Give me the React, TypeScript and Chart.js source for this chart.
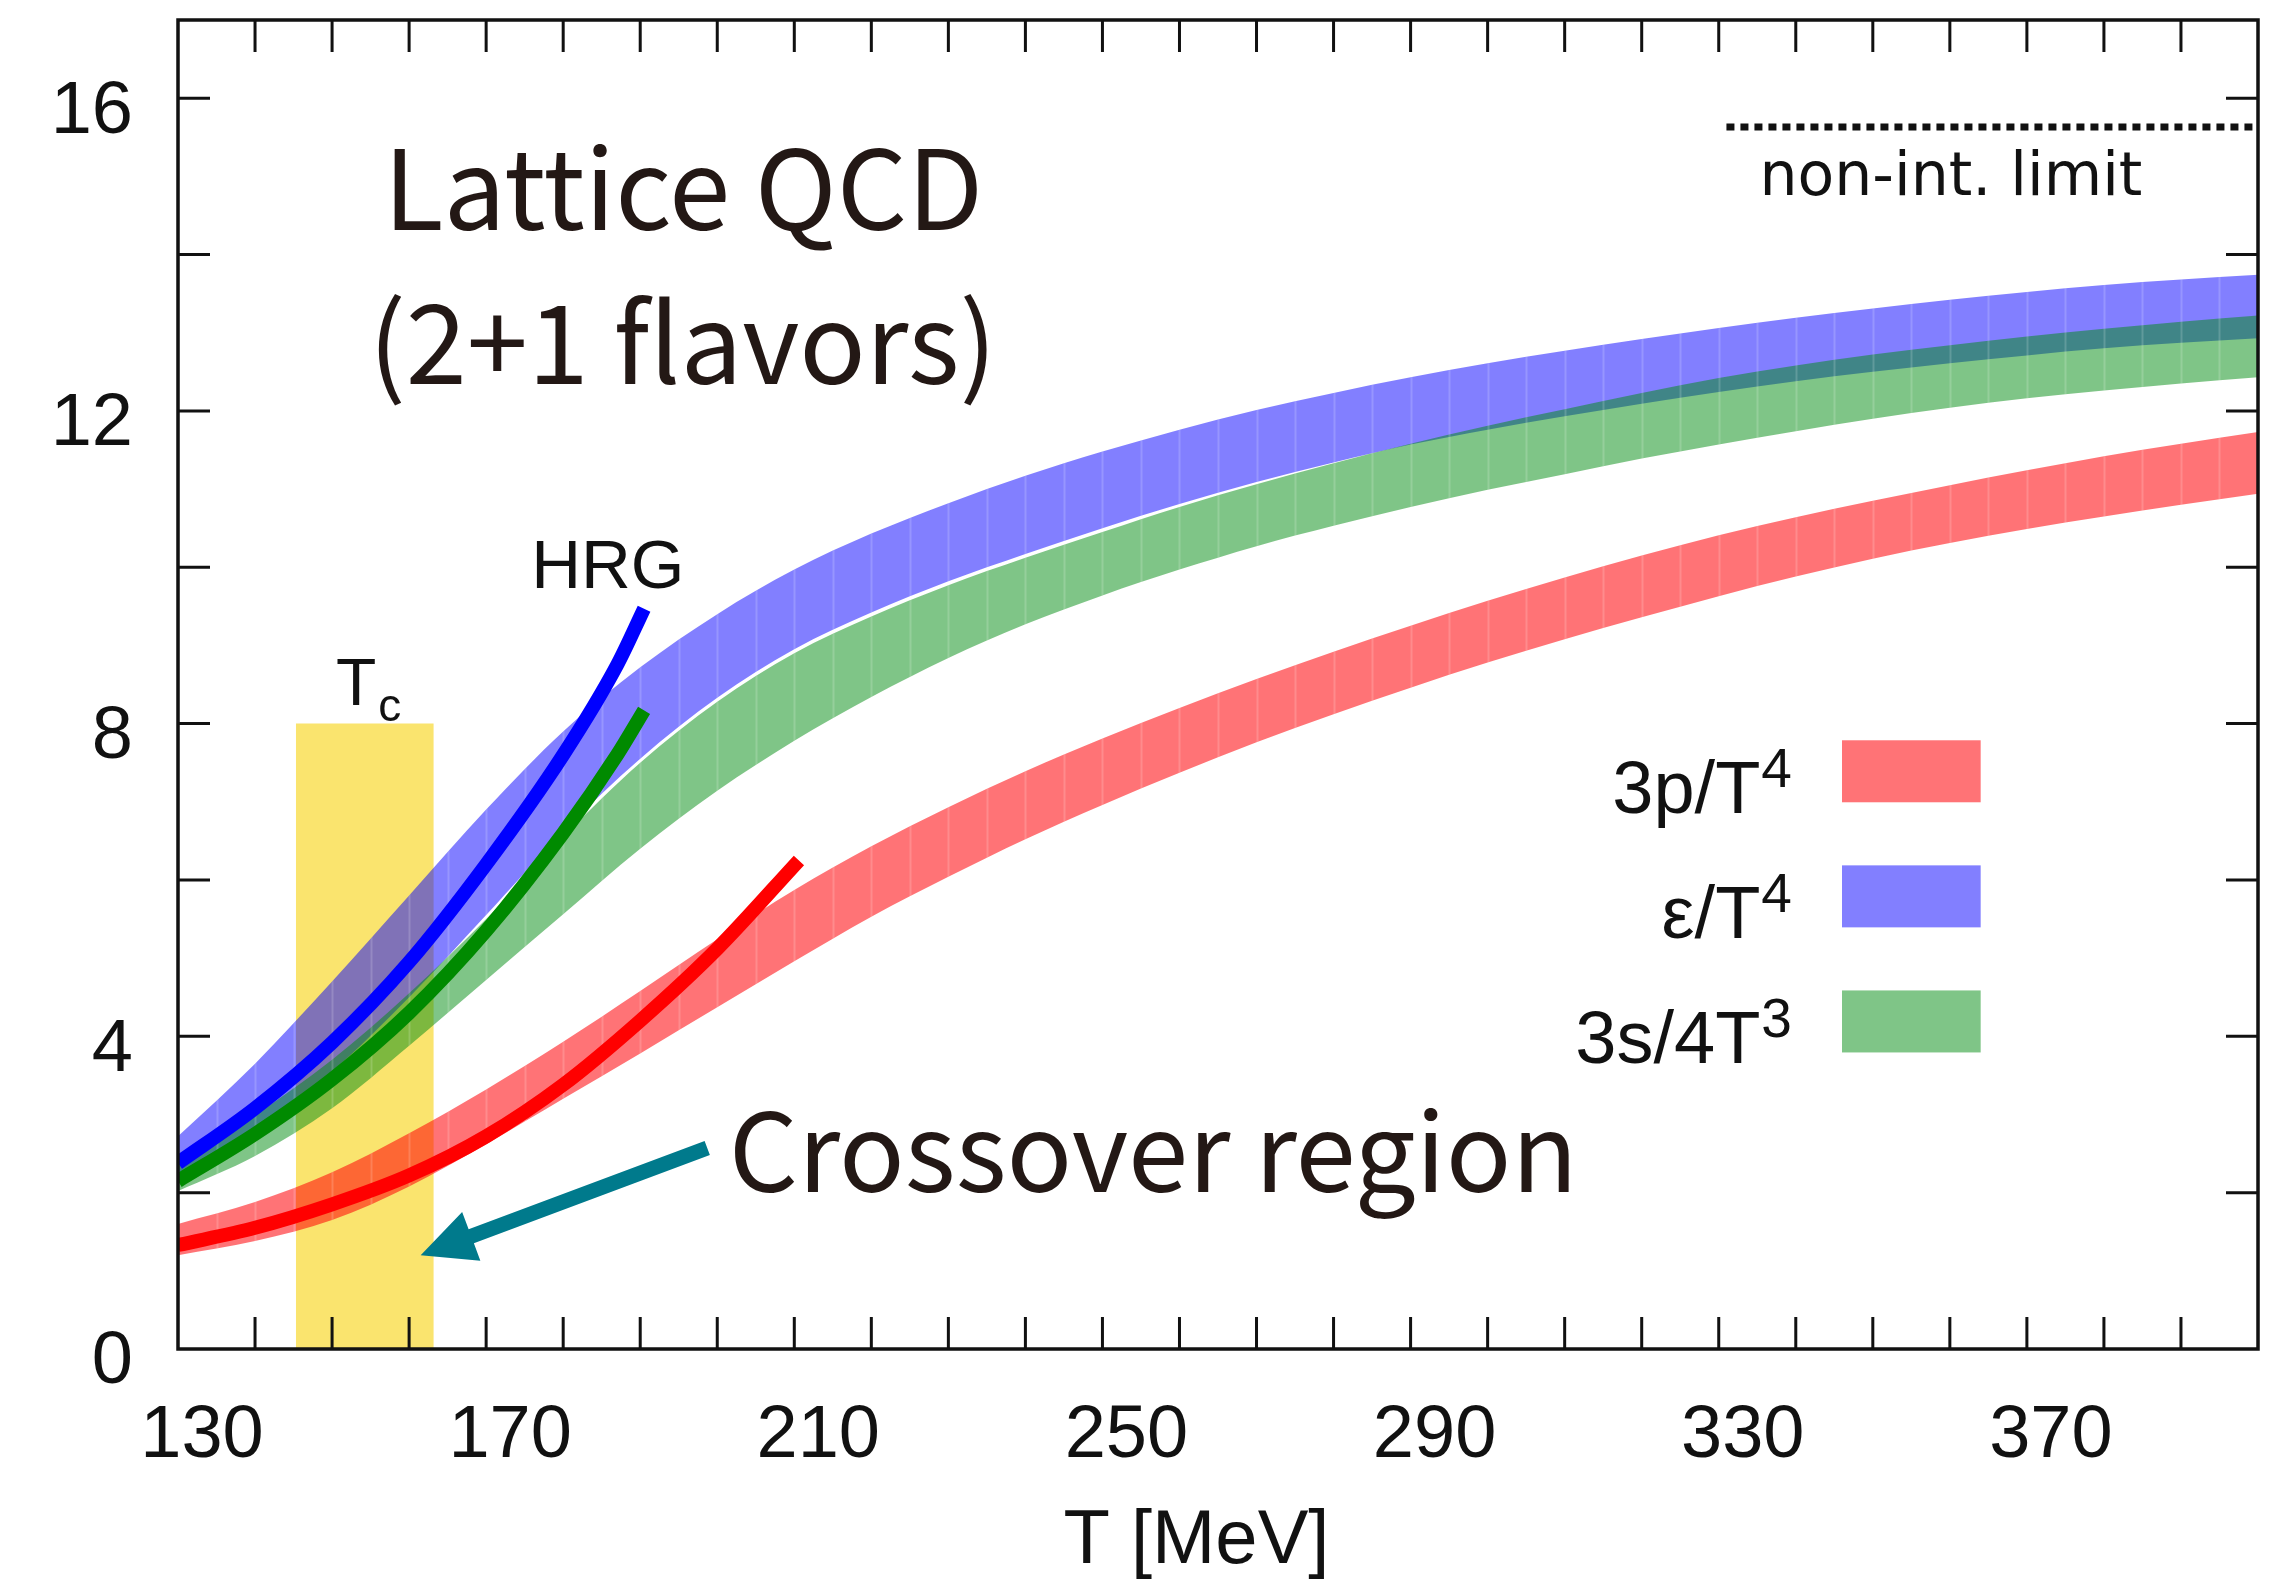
import React, { useEffect, useRef } from 'react';
import { Chart, registerables } from 'chart.js';

Chart.register(...registerables);

// Temperature grid (MeV) of the lattice bands
const T_LATTICE = [130, 140, 150, 160, 170, 180, 190, 200, 210, 220, 230, 240, 250, 260, 270, 280, 290, 300, 310, 320, 330, 340, 350, 360, 370, 380, 390, 400];

// 3p/T^4 band
const P_UPPER = [1.6, 1.88, 2.26, 2.76, 3.32, 3.93, 4.58, 5.24, 5.87, 6.43, 6.93, 7.39, 7.81, 8.2, 8.57, 8.92, 9.25, 9.57, 9.87, 10.15, 10.41, 10.64, 10.85, 11.05, 11.24, 11.42, 11.58, 11.73];
const P_LOWER = [1.2, 1.38, 1.65, 2.08, 2.62, 3.2, 3.78, 4.37, 4.96, 5.53, 6.04, 6.52, 6.96, 7.37, 7.76, 8.12, 8.46, 8.78, 9.08, 9.36, 9.63, 9.88, 10.11, 10.31, 10.49, 10.65, 10.8, 10.94];

// ε/T^4 band
const E_UPPER = [2.72, 3.65, 4.7, 5.8, 6.9, 7.9, 8.72, 9.4, 9.97, 10.43, 10.82, 11.17, 11.48, 11.76, 12.01, 12.23, 12.43, 12.61, 12.77, 12.92, 13.06, 13.19, 13.31, 13.42, 13.52, 13.61, 13.68, 13.74];
const E_LOWER = [2.22, 2.8, 3.55, 4.5, 5.55, 6.62, 7.55, 8.33, 8.95, 9.42, 9.82, 10.17, 10.5, 10.81, 11.09, 11.34, 11.57, 11.76, 11.93, 12.09, 12.24, 12.38, 12.5, 12.61, 12.71, 12.8, 12.87, 12.93];

// 3s/4T^3 band
const S_UPPER = [2.45, 3.0, 3.7, 4.55, 5.5, 6.55, 7.5, 8.28, 8.9, 9.37, 9.77, 10.12, 10.45, 10.77, 11.06, 11.33, 11.58, 11.81, 12.02, 12.23, 12.42, 12.58, 12.72, 12.84, 12.95, 13.05, 13.14, 13.22];
const S_LOWER = [2.02, 2.47, 3.08, 3.88, 4.72, 5.56, 6.4, 7.14, 7.78, 8.34, 8.84, 9.27, 9.64, 9.97, 10.27, 10.53, 10.77, 10.99, 11.19, 11.39, 11.57, 11.74, 11.9, 12.04, 12.16, 12.26, 12.35, 12.43];

// Hadron resonance gas curves
const HRG_E_T = [130, 140, 150, 160, 170, 180, 187, 190.5];
const HRG_E = [2.38, 3.08, 3.92, 4.95, 6.2, 7.6, 8.75, 9.47];
const HRG_S_T = [130, 140, 150, 160, 170, 180, 187, 190.5];
const HRG_S = [2.15, 2.75, 3.45, 4.3, 5.35, 6.6, 7.6, 8.17];
const HRG_P_T = [130, 140, 150, 160, 170, 180, 190, 200, 210.6];
const HRG_P = [1.33, 1.55, 1.85, 2.22, 2.72, 3.38, 4.2, 5.12, 6.25];

// Crossover (Tc) window and Stefan-Boltzmann limit
const TC_RANGE = [145.3, 163.2];
const TC_TOP = 8;
const SB_RANGE = [331, 400];
const SB_LIMIT = 15.63;

// Axis ticks
const X_LABELS = [130, 170, 210, 250, 290, 330, 370];
const Y_LABELS = [0, 4, 8, 12, 16];
const X_MINOR = [140, 150, 160, 170, 180, 190, 200, 210, 220, 230, 240, 250, 260, 270, 280, 290, 300, 310, 320, 330, 340, 350, 360, 370, 380, 390];
const Y_MINOR = [2, 4, 6, 8, 10, 12, 14, 16];

// Legend entries
const LEGEND_MAIN = ['3p/T', 'ε/T', '3s/4T'];
const LEGEND_SUP = ['4', '4', '3'];

const RED_FILL = 'rgba(255,0,5,0.55)';
const BLUE_FILL = 'rgba(5,0,255,0.5)';
const GREEN_FILL = 'rgba(0,140,16,0.5)';
const LEGEND_FILL = [RED_FILL, BLUE_FILL, GREEN_FILL];

const TEXT_DARK = '#231815';
const AXIS_FONT = '"Liberation Sans", Arial, sans-serif';
const JP_FONT = '"Noto Sans CJK JP", "Noto Sans", sans-serif';

const pts = (xs: number[], ys: number[]) => xs.map((t, i) => ({ x: t, y: ys[i] }));

const clear = 'rgba(0,0,0,0)';

// dataset indices of the band edges: [upper, lower]
const BAND_PAIRS = [
  [4, 5],
  [6, 7],
  [8, 9],
];

function fitSize(ctx: CanvasRenderingContext2D, text: string, family: string, width: number) {
  ctx.font = `400 100px ${family}`;
  return (100 * width) / ctx.measureText(text).width;
}

// outline of a band, following the same bezier segments the filler uses
function addBandPath(ctx: CanvasRenderingContext2D, up: any[], lo: any[]) {
  ctx.moveTo(up[0].x, up[0].y);
  for (let i = 1; i < up.length; i++) {
    ctx.bezierCurveTo(up[i - 1].cp2x, up[i - 1].cp2y, up[i].cp1x, up[i].cp1y, up[i].x, up[i].y);
  }
  const n = lo.length;
  ctx.lineTo(lo[n - 1].x, lo[n - 1].y);
  for (let i = n - 1; i > 0; i--) {
    ctx.bezierCurveTo(lo[i].cp1x, lo[i].cp1y, lo[i - 1].cp2x, lo[i - 1].cp2y, lo[i - 1].x, lo[i - 1].y);
  }
  ctx.closePath();
}

const decorPlugin = {
  id: 'decor',
  afterDatasetDraw(chart: any, args: any) {
    // faint segment seams inside the lattice bands, drawn once all bands are filled
    if (args.index !== 4) return;
    const { ctx, chartArea, scales } = chart;
    const x = scales.x;
    ctx.save();
    ctx.beginPath();
    ctx.rect(chartArea.left, chartArea.top, chartArea.right - chartArea.left, chartArea.bottom - chartArea.top);
    ctx.clip();
    ctx.beginPath();
    BAND_PAIRS.forEach(([u, l]) => {
      addBandPath(ctx, chart.getDatasetMeta(u).data, chart.getDatasetMeta(l).data);
    });
    ctx.clip();
    ctx.strokeStyle = 'rgba(255,255,255,0.17)';
    ctx.lineWidth = 2;
    ctx.beginPath();
    for (let t = 135; t < 400; t += 5) {
      const px = Math.round(x.getPixelForValue(t)) + 0.5;
      ctx.moveTo(px, chartArea.top);
      ctx.lineTo(px, chartArea.bottom);
    }
    ctx.stroke();
    ctx.restore();
  },
  afterDatasetsDraw(chart: any) {
    const { ctx, scales } = chart;
    const x = scales.x;
    const y = scales.y;
    // teal arrow pointing into the crossover window
    const tail = { x: x.getPixelForValue(198.7), y: y.getPixelForValue(2.57) };
    const tip = { x: x.getPixelForValue(161.5), y: y.getPixelForValue(1.2) };
    const dx = tip.x - tail.x;
    const dy = tip.y - tail.y;
    const len = Math.hypot(dx, dy);
    const ux = dx / len;
    const uy = dy / len;
    const nx = -uy;
    const ny = ux;
    const headLen = 54;
    const headHalf = 26;
    const shaftHalf = 7.5;
    const bx = tip.x - ux * headLen;
    const by = tip.y - uy * headLen;
    ctx.save();
    ctx.fillStyle = '#007a8c';
    ctx.beginPath();
    ctx.moveTo(tail.x + nx * shaftHalf, tail.y + ny * shaftHalf);
    ctx.lineTo(bx + nx * shaftHalf, by + ny * shaftHalf);
    ctx.lineTo(bx + nx * headHalf, by + ny * headHalf);
    ctx.lineTo(tip.x, tip.y);
    ctx.lineTo(bx - nx * headHalf, by - ny * headHalf);
    ctx.lineTo(bx - nx * shaftHalf, by - ny * shaftHalf);
    ctx.lineTo(tail.x - nx * shaftHalf, tail.y - ny * shaftHalf);
    ctx.closePath();
    ctx.fill();
    ctx.restore();
  },
  afterDraw(chart: any) {
    const { ctx, chartArea, scales } = chart;
    const { left, right, top, bottom } = chartArea;
    const x = scales.x;
    const y = scales.y;
    ctx.save();

    // frame and inward ticks on all four sides
    ctx.strokeStyle = '#111';
    ctx.lineWidth = 3.5;
    ctx.strokeRect(left, top, right - left, bottom - top);
    ctx.lineWidth = 3;
    const tick = 32;
    ctx.beginPath();
    X_MINOR.forEach((t) => {
      const px = x.getPixelForValue(t);
      ctx.moveTo(px, bottom);
      ctx.lineTo(px, bottom - tick);
      ctx.moveTo(px, top);
      ctx.lineTo(px, top + tick);
    });
    Y_MINOR.forEach((v) => {
      const py = y.getPixelForValue(v);
      ctx.moveTo(left, py);
      ctx.lineTo(left + tick, py);
      ctx.moveTo(right, py);
      ctx.lineTo(right - tick, py);
    });
    ctx.stroke();

    ctx.fillStyle = '#111';
    ctx.textBaseline = 'alphabetic';

    // axis title
    ctx.font = `76px ${AXIS_FONT}`;
    ctx.textAlign = 'center';
    ctx.fillText('T [MeV]', x.getPixelForValue(262.2), 1563);

    // Tc label
    ctx.textAlign = 'left';
    ctx.font = `66px ${AXIS_FONT}`;
    const tcX = x.getPixelForValue(150.5);
    const tcY = y.getPixelForValue(8.24);
    ctx.fillText('T', tcX, tcY);
    const tW = ctx.measureText('T').width;
    ctx.font = `46px ${AXIS_FONT}`;
    ctx.fillText('c', tcX + tW + 2, tcY + 16);

    // HRG label
    ctx.textAlign = 'center';
    ctx.font = `69px ${AXIS_FONT}`;
    ctx.fillText('HRG', x.getPixelForValue(185.8), y.getPixelForValue(9.74));

    // non-interacting limit label
    ctx.textAlign = 'left';
    ctx.font = `60px "DejaVu Sans", sans-serif`;
    ctx.fillText('non-int. limit', x.getPixelForValue(335.3), y.getPixelForValue(14.76));

    // legend
    const textRight = x.getPixelForValue(339.5);
    const sw0 = x.getPixelForValue(346.0);
    const sw1 = x.getPixelForValue(364.0);
    const rows = [7.39, 5.79, 4.19];
    rows.forEach((v, i) => {
      const cy = y.getPixelForValue(v);
      ctx.fillStyle = '#ffffff';
      ctx.fillRect(sw0, cy - 31, sw1 - sw0, 62);
      ctx.fillStyle = LEGEND_FILL[i];
      ctx.fillRect(sw0, cy - 31, sw1 - sw0, 62);
      ctx.fillStyle = '#111';
      ctx.font = `74px ${AXIS_FONT}`;
      const wMain = ctx.measureText(LEGEND_MAIN[i]).width;
      ctx.font = `55px ${AXIS_FONT}`;
      const wSup = ctx.measureText(LEGEND_SUP[i]).width;
      const x0 = textRight - wMain - wSup - 1;
      ctx.font = `74px ${AXIS_FONT}`;
      ctx.textAlign = 'left';
      ctx.fillText(LEGEND_MAIN[i], x0, cy + 42);
      ctx.font = `55px ${AXIS_FONT}`;
      ctx.fillText(LEGEND_SUP[i], x0 + wMain + 1, cy + 16);
    });

    // headline and annotation text
    ctx.fillStyle = TEXT_DARK;
    ctx.textAlign = 'center';
    let s = fitSize(ctx, 'Lattice QCD', JP_FONT, 600);
    ctx.font = `400 ${s}px ${JP_FONT}`;
    ctx.fillText('Lattice QCD', x.getPixelForValue(195.6), y.getPixelForValue(14.31));
    s = fitSize(ctx, '(2+1 flavors)', JP_FONT, 628);
    ctx.font = `400 ${s}px ${JP_FONT}`;
    ctx.fillText('(2+1 flavors)', x.getPixelForValue(195.5), y.getPixelForValue(12.35));
    ctx.textAlign = 'left';
    s = fitSize(ctx, 'Crossover region', JP_FONT, 849);
    ctx.font = `400 ${s}px ${JP_FONT}`;
    ctx.fillText('Crossover region', x.getPixelForValue(201.5), y.getPixelForValue(2.01));

    ctx.restore();
  },
};

export default function App() {
  const canvasRef = useRef<HTMLCanvasElement | null>(null);

  useEffect(() => {
    const canvas = canvasRef.current;
    if (!canvas) return;
    const band = { pointRadius: 0, borderWidth: 0, borderColor: clear, cubicInterpolationMode: 'monotone' as const };
    const chart = new Chart(canvas, {
      type: 'line',
      data: {
        datasets: [
          { label: 'HRG ε', data: pts(HRG_E_T, HRG_E), borderColor: '#0000ff', borderWidth: 14, pointRadius: 0, fill: false, cubicInterpolationMode: 'monotone', borderCapStyle: 'butt', order: 1 },
          { label: 'HRG s', data: pts(HRG_S_T, HRG_S), borderColor: '#008a00', borderWidth: 14, pointRadius: 0, fill: false, cubicInterpolationMode: 'monotone', borderCapStyle: 'butt', order: 1 },
          { label: 'HRG p', data: pts(HRG_P_T, HRG_P), borderColor: '#ff0000', borderWidth: 14, pointRadius: 0, fill: false, cubicInterpolationMode: 'monotone', borderCapStyle: 'butt', order: 1 },
          { label: 'non-int. limit', data: pts(SB_RANGE, [SB_LIMIT, SB_LIMIT]), borderColor: '#111', borderWidth: 7, borderDash: [8, 6], pointRadius: 0, fill: false, order: 2 },
          { label: '3p/T4 upper', data: pts(T_LATTICE, P_UPPER), ...band, fill: false, order: 5 },
          { label: '3p/T4', data: pts(T_LATTICE, P_LOWER), ...band, fill: { target: 4 }, backgroundColor: RED_FILL, order: 5 },
          { label: '3s/4T3 upper', data: pts(T_LATTICE, S_UPPER), ...band, fill: false, order: 6 },
          { label: '3s/4T3', data: pts(T_LATTICE, S_LOWER), ...band, fill: { target: 6 }, backgroundColor: GREEN_FILL, order: 6 },
          { label: 'ε/T4 upper', data: pts(T_LATTICE, E_UPPER), ...band, fill: false, order: 7 },
          { label: 'ε/T4', data: pts(T_LATTICE, E_LOWER), ...band, fill: { target: 8 }, backgroundColor: BLUE_FILL, order: 7 },
          { label: 'Tc', data: pts(TC_RANGE, [TC_TOP, TC_TOP]), pointRadius: 0, borderWidth: 0, borderColor: clear, fill: 'origin', backgroundColor: '#fae46e', order: 8 },
        ],
      },
      options: {
        animation: false,
        responsive: false,
        maintainAspectRatio: false,
        devicePixelRatio: 1,
        layout: { padding: { top: 20, right: 26, left: 0, bottom: 0 } },
        plugins: { legend: { display: false }, tooltip: { enabled: false }, title: { display: false } },
        scales: {
          x: {
            type: 'linear',
            min: 130,
            max: 400,
            afterBuildTicks: (s: any) => {
              s.ticks = X_LABELS.map((v) => ({ value: v }));
            },
            afterFit: (s: any) => {
              s.height = 230;
              s.paddingLeft = 0;
              s.paddingRight = 0;
            },
            grid: { display: false, drawTicks: false },
            border: { display: false },
            ticks: {
              autoSkip: false,
              maxRotation: 0,
              labelOffset: 24,
              padding: 43,
              color: '#111',
              font: { family: AXIS_FONT, size: 74 },
              callback: (v: any) => String(v),
            },
          },
          y: {
            type: 'linear',
            min: 0,
            max: 17,
            afterBuildTicks: (s: any) => {
              s.ticks = Y_LABELS.map((v) => ({ value: v }));
            },
            afterFit: (s: any) => {
              s.width = 178;
              s.paddingTop = 0;
              s.paddingBottom = 0;
            },
            grid: { display: false, drawTicks: false },
            border: { display: false },
            ticks: {
              autoSkip: false,
              labelOffset: 14,
              padding: 45,
              color: '#111',
              font: { family: AXIS_FONT, size: 74 },
              callback: (v: any) => String(v),
            },
          },
        },
      },
      plugins: [decorPlugin],
    });
    return () => chart.destroy();
  }, []);

  return (
    <div style={{ position: 'absolute', left: 0, top: 0, width: 2284, height: 1579, background: '#ffffff' }}>
      <canvas ref={canvasRef} width={2284} height={1579} style={{ display: 'block', width: 2284, height: 1579 }} />
    </div>
  );
}
